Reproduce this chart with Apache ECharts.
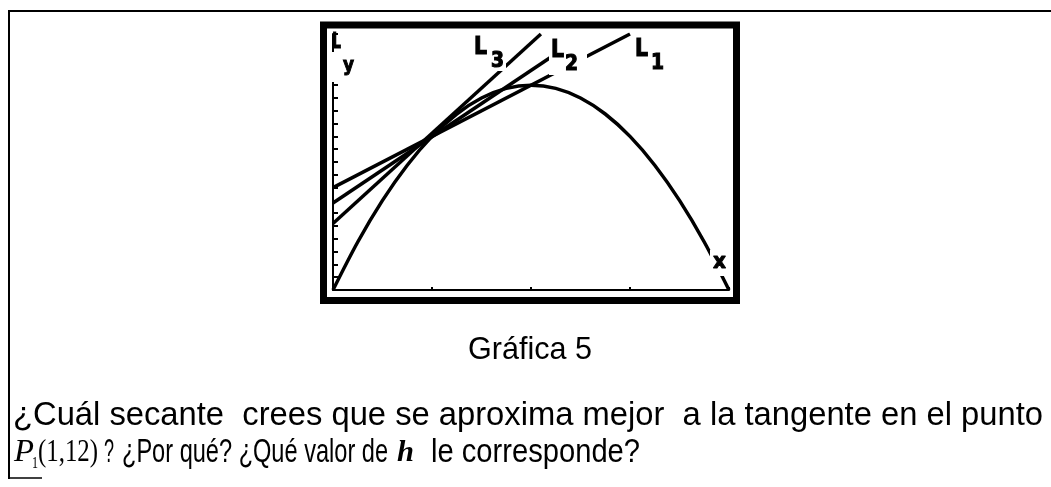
<!DOCTYPE html>
<html>
<head>
<meta charset="utf-8">
<script src="https://cdn.jsdelivr.net/npm/echarts@6/dist/echarts.min.js"></script>
<style>
  html, body { margin: 0; padding: 0; background: #fff; }
  #chart { width: 1051px; height: 487px; }
</style>
</head>
<body>
<div id="chart"></div>
<script>
// Parabola sampled every quarter unit (x, y)
const curveX = [0, 0.25, 0.5, 0.75, 1, 1.25, 1.5, 1.75, 2, 2.25, 2.5, 2.75, 3, 3.25, 3.5, 3.75, 4];
const curveY = [0, 3.75, 7, 9.75, 12, 13.75, 15, 15.75, 16, 15.75, 15, 13.75, 12, 9.75, 7, 3.75, 0];

// Secant lines through P1: start on the y axis, end at the top of the window
const secantNames = ['L1', 'L2', 'L3'];
const secantFrom = [[0, 8], [0, 6.8], [0, 5.2]];
const secantTo = [[3, 20], [2.55, 20], [2.1, 20]];

// Viewing window
const xRange = [0, 4];
const yRange = [0, 20];

// Page texts
const caption = 'Gráfica 5';
const question1 = '¿Cuál secante  crees que se aproxima mejor  a la tangente en el punto';
const pointName = 'P';
const pointSub = '1';
const pointCoords = '(1,12)';
const question2 = ['?', '¿Por qué? ¿Qué valor de', 'h', 'le corresponde?'];

const SANS = "'Liberation Sans Narrow', 'Liberation Sans', Arial, sans-serif";
const SERIF = "'Liberation Serif', 'Times New Roman', serif";
const PIXEL = "'DejaVu Sans', sans-serif";

const measureCtx = document.createElement('canvas').getContext('2d');
function naturalWidth(text, size, family, weight, style) {
  measureCtx.font = `${style || 'normal'} ${weight || 'normal'} ${size}px ${family}`;
  return measureCtx.measureText(text).width;
}

// Text piece stretched to a given width; y is the baseline
function fitText(text, x, baseline, width, size, family, weight, style, outline) {
  const w = naturalWidth(text, size, family, weight, style);
  const mid = baseline - 0.35 * size;
  const st = {
    text: text, x: 0, y: 0, fill: '#000',
    fontSize: size, fontFamily: family, fontWeight: weight || 'normal', fontStyle: style || 'normal',
    align: 'left', verticalAlign: 'middle'
  };
  if (outline) { st.stroke = '#000'; st.lineWidth = outline; }
  return { type: 'text', x: x, y: mid, scaleX: width / w, z: 20, style: st };
}

function whiteBox(x, y, w, h) {
  return { type: 'rect', z: 15, shape: { x: x, y: y, width: w, height: h }, style: { fill: '#fff' } };
}

const chart = echarts.init(document.getElementById('chart'), null, { renderer: 'canvas' });

const curveData = curveX.map((x, i) => [x, curveY[i]]);
const series = [{
  type: 'line', data: curveData, showSymbol: false, smooth: 0.3, clip: true,
  lineStyle: { color: '#000', width: 3.5 }, z: 3, silent: true
}];
secantNames.forEach((name, i) => {
  series.push({
    type: 'line', name: name, data: [secantFrom[i], secantTo[i]], showSymbol: false, clip: true,
    lineStyle: { color: '#000', width: 3.5 }, z: 3, silent: true
  });
});

// Calculator-style labels with white backing
const calcLabels = [];
// secant labels: [boxX, boxY, boxW, boxH, lx, ly, digitX, digitY]
const labelSpots = [
  [633, 31, 38, 44, 635, 58, 651, 71],
  [549, 31, 38, 44, 551, 59, 565, 72],
  [471, 33, 35, 38, 474, 56, 491, 69]
];
secantNames.forEach((name, i) => {
  const s = labelSpots[i];
  calcLabels.push(whiteBox(s[0], s[1], s[2], s[3]));
  calcLabels.push(fitText(name.charAt(0), s[4], s[5], 13, 25, PIXEL, 'bold', null, 1.2));
  calcLabels.push(fitText(name.charAt(1), s[6], s[7], 13, 22, PIXEL, 'bold', null, 1.2));
});
// axis names
calcLabels.push(whiteBox(328, 52, 28, 30));
calcLabels.push(fitText('y', 343, 73, 11, 19, PIXEL, 'bold', null, 1));
calcLabels.push(fitText('L', 332, 50, 9, 22, PIXEL, 'bold', null, 1));
calcLabels.push(whiteBox(710, 250, 18, 26));
calcLabels.push(fitText('x', 713, 270, 13, 21, PIXEL, 'bold', null, 1));

const pageGraphics = [
  // page rules
  { type: 'line', z: 5, shape: { x1: 8, y1: 11, x2: 1051, y2: 11 }, style: { stroke: '#000', lineWidth: 2 } },
  { type: 'line', z: 5, shape: { x1: 9, y1: 10, x2: 9, y2: 479 }, style: { stroke: '#000', lineWidth: 2 } },
  { type: 'line', z: 5, shape: { x1: 8, y1: 478, x2: 42, y2: 478 }, style: { stroke: '#000', lineWidth: 1.5 } },
  // calculator screen frame
  { type: 'rect', z: 5, shape: { x: 323.5, y: 25, width: 413, height: 275.5 },
    style: { fill: 'none', stroke: '#000', lineWidth: 7 } },
  // caption and question
  fitText(caption, 468, 361, 124, 32, SANS),
  fitText(question1, 13, 427, 1030, 33, SANS),
  fitText(pointName, 14, 464, 20, 32, SERIF, 'normal', 'italic'),
  fitText(pointSub, 32, 469, 6, 17, SERIF),
  fitText(pointCoords, 38, 464, 60, 32, SERIF),
  fitText(question2[0], 104, 464, 10, 33, SANS),
  fitText(question2[1], 122, 464, 266, 33, SANS),
  fitText(question2[2], 397, 464, 17, 30, SERIF, 'bold', 'italic'),
  fitText(question2[3], 431, 464, 209, 33, SANS)
];

chart.setOption({
  animation: false,
  backgroundColor: '#fff',
  grid: { left: 333, top: 34, width: 396, height: 256, containLabel: false },
  xAxis: {
    type: 'value', min: xRange[0], max: xRange[1], interval: 1,
    axisLine: { show: true, lineStyle: { color: '#000', width: 2 } },
    axisTick: { show: true, inside: true, length: 3, lineStyle: { color: '#000', width: 2 } },
    axisLabel: { show: false }, splitLine: { show: false }
  },
  yAxis: {
    type: 'value', min: yRange[0], max: yRange[1], interval: 1,
    axisLine: { show: true, lineStyle: { color: '#000', width: 2 } },
    axisTick: { show: true, inside: true, length: 5, lineStyle: { color: '#000', width: 2 } },
    axisLabel: { show: false }, splitLine: { show: false }
  },
  series: series,
  graphic: { elements: pageGraphics.concat(calcLabels) }
});
</script>
</body>
</html>
